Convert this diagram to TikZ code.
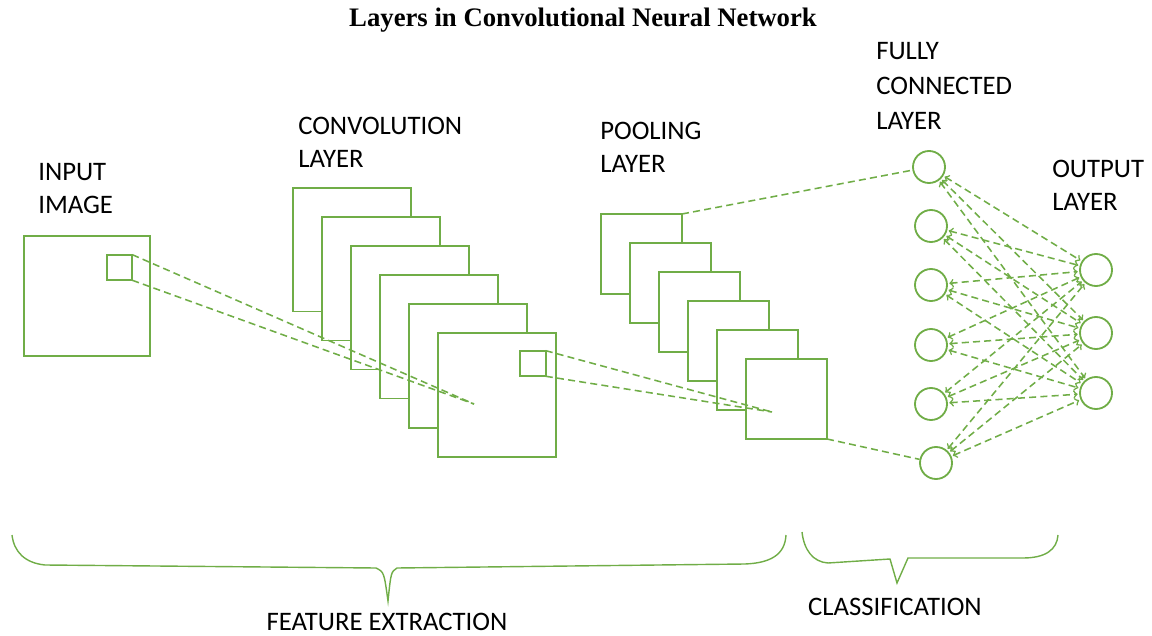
\documentclass[tikz,border=0pt]{standalone}
\usepackage{fontspec}
\setmainfont{Carlito}
\newfontfamily\titlefont{Liberation Serif}
\usepackage{tikz}
\usepackage{xcolor}
\definecolor{CnnGreen}{HTML}{70AD47}

\begin{document}
\begin{tikzpicture}[
    x=0.025cm, y=-0.025cm,
    frame/.style={
        draw=CnnGreen,
        fill=white,
        line width=1.4pt,
        inner sep=0pt,
        outer sep=0pt
    },
    convframe/.style={frame, minimum width=2.95cm, minimum height=3.075cm},
    poolframe/.style={frame, minimum width=2.025cm, minimum height=2.0cm},
    kernel/.style={frame, minimum size=0.64cm},
    neuron/.style={
        circle,
        draw=CnnGreen,
        line width=1.3pt,
        minimum size=0.8cm,
        inner sep=0pt
    },
    link/.style={
        draw=CnnGreen,
        line width=1.1pt,
        dash pattern=on 5pt off 3pt
    },
    fclink/.style={link, <->, shorten <=1pt, shorten >=1pt},
    brace/.style={
        draw=CnnGreen,
        line width=1pt
    },
    label/.style={
        anchor=north west,
        align=left,
        inner sep=0pt,
        font=\fontsize{19}{23.5}\selectfont
    },
    caption/.style={
        inner sep=0pt,
        font=\fontsize{19}{23}\selectfont
    }
]
\useasboundingbox (0,0) rectangle (1152,636);

\node (title) at (583,20) {\titlefont\bfseries\fontsize{19}{23}\selectfont Layers in Convolutional Neural Network};

\node[label] (inlabel) at (38,163) {INPUT\\IMAGE};
\node[label] (convlabel) at (298,117) {CONVOLUTION\\LAYER};
\node[label] (poollabel) at (600,122) {POOLING\\LAYER};
\node[label, font=\fontsize{19}{25}\selectfont] (fclabel) at (876,42) {FULLY\\CONNECTED\\LAYER};
\node[label] (outlabel) at (1052,160) {OUTPUT\\LAYER};

\node[frame, minimum width=3.15cm, minimum height=3.0cm] (input) at (87,296) {};
\node[kernel] (inkernel) at (119.5,267.5) {};

\foreach \i in {1,...,6}
    \node[convframe] (conv\i) at ({352+29*(\i-1)},{250+29*(\i-1)}) {};
\node[kernel] (convkernel) at (533,363.5) {};

\foreach \i in {1,...,6}
    \node[poolframe] (pool\i) at ({641.5+29*(\i-1)},{254+29*(\i-1)}) {};

\foreach \i/\x/\y in {1/929/167, 2/931/226, 3/931/285, 4/931/345, 5/931/404, 6/936/463}
    \node[neuron] (fc\i) at (\x,\y) {};

\foreach \i/\y in {1/270, 2/333, 3/393}
    \node[neuron] (out\i) at (1096,\y) {};

\coordinate (convfocus) at (474,404);
\coordinate (poolfocus) at (772,412);

\draw[link] (inkernel.north east) -- (convfocus);
\draw[link] (inkernel.south east) -- (convfocus);
\draw[link] (convkernel.north east) -- (poolfocus);
\draw[link] (convkernel.south east) -- (poolfocus);
\draw[link] (pool1.north east) -- (fc1);
\draw[link] (pool6.south east) -- (fc6);

\foreach \i in {1,...,6}
    \foreach \j in {1,2,3}
        \draw[fclink] (fc\i) -- (out\j);

\draw[brace] (12,535) .. controls (14,552) and (25,563) .. (45,565) -- (376,568)
    .. controls (384,572) .. (388,601) .. controls (391,572) .. (397,568)
    -- (745,564) .. controls (770,563) and (785,555) .. (786,535);
\draw[brace] (802,532) .. controls (804,550) and (813,562) .. (828,563) -- (890,559)
    -- (897,583) -- (908,558) -- (1023,558) .. controls (1045,558) and (1057,550) .. (1058,535);

\node[caption] (classify) at (895,607) {CLASSIFICATION};
\node[caption] (features) at (387,622) {FEATURE EXTRACTION};

\end{tikzpicture}
\end{document}
